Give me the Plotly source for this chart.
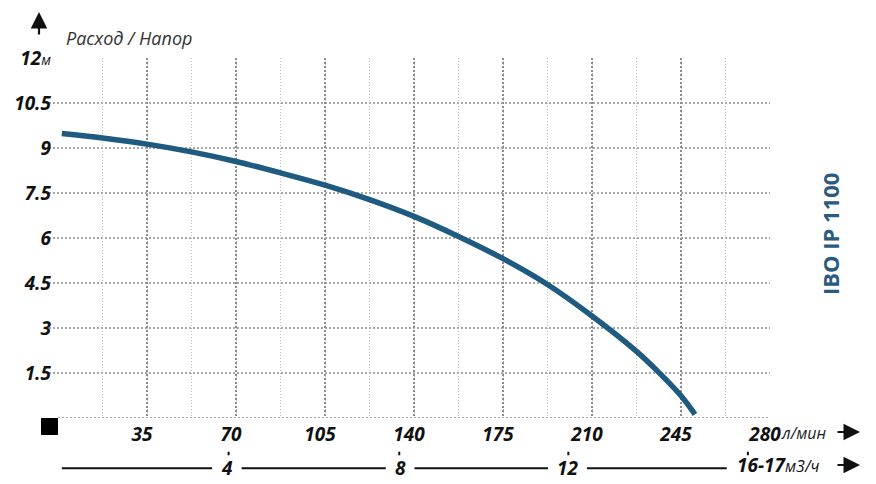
import plotly.graph_objects as go

# ---- data ----
flow_lpm = [1.5, 17.5, 35, 52.5, 70, 87.5, 105, 122.5, 140, 157.5, 175, 192.5, 210, 227.5, 236.25, 245, 250.5]
head_m = [9.48, 9.33, 9.13, 8.87, 8.55, 8.17, 7.76, 7.28, 6.72, 6.05, 5.31, 4.45, 3.4, 2.22, 1.52, 0.74, 0.12]

x_ticks = [0, 35, 70, 105, 140, 175, 210, 245, 280]
x_ticktext = ["", "35", "70", "105", "140", "175", "210", "245", "280"]
y_ticks = [1.5, 3, 4.5, 6, 7.5, 9, 10.5, 12]
y_ticktext = ["1.5", "3", "4.5", "6", "7.5", "9", "10.5",
              "12<span style='font-size:14px;font-weight:400'>м</span>"]
h_grid = [0, 1.5, 3, 4.5, 6, 7.5, 9, 10.5]

# secondary scale (m3/h), positions in l/min
m3h_labels = ["4", "8", "12"]
m3h_label_pos = [66.5, 134.5, 200.5]
m3h_tick_pos = [67.1, 134.2, 200.7, 271.3, 286.6]
m3h_line_segments = [(1.5, 60.6), (72.2, 128.9), (140.2, 192.7), (208.0, 263.0)]

title_text = "Расход / Напор"
model_text = "IBO IP 1100"
unit_flow = "л/мин"
unit_m3h = "<b>16-17</b><span style='font-size:16px'>м3/ч</span>"

CURVE = "#1f5a80"
FONT = "Open Sans"

W, H = 876, 484
L, R, T, B = 58, 106, 58, 6
PW, PH = W - L - R, H - T - B
main_bottom = (H - B - 418) / PH


def px(xp):
    return (xp - L) / PW


def py(yp):
    return (H - B - yp) / PH


fig = go.Figure()

fig.add_trace(go.Scatter(
    x=flow_lpm, y=head_m, mode="lines",
    line=dict(color=CURVE, width=5.5, shape="spline", smoothing=1.0),
    hoverinfo="skip", showlegend=False, xaxis="x", yaxis="y"))

# m3/h baseline segments
sx, sy = [], []
for a, b in m3h_line_segments:
    sx += [a, b, None]
    sy += [47, 47, None]
fig.add_trace(go.Scatter(x=sx, y=sy, mode="lines", line=dict(color="#111", width=2),
                         hoverinfo="skip", showlegend=False, xaxis="x2", yaxis="y2"))

shapes = []
for v in h_grid:
    shapes.append(dict(type="line", xref="paper", yref="y",
                       x0=(0 if v == 0 else -9 / PW), x1=1, y0=v, y1=v,
                       line=dict(color="#8c8c8c", width=1.5, dash="2px,2px"), layer="below"))
# black square at origin
shapes.append(dict(type="rect", xref="paper", yref="paper",
                   x0=px(41), x1=px(58), y0=py(435), y1=py(418),
                   fillcolor="#000", line=dict(width=0)))

annotations = []
num_font = dict(family=FONT, size=19, color="#111", weight="bold", style="italic")
for lab, pos in zip(m3h_labels, m3h_label_pos):
    annotations.append(dict(x=pos, y=47, xref="x2", yref="y2", text=lab, showarrow=False,
                            font=num_font, xanchor="center", yanchor="middle"))
for pos in m3h_tick_pos:
    annotations.append(dict(x=pos, y=34.7, xref="x2", yref="y2", text="", showarrow=True,
                            ax=0, ay=-5, arrowhead=0, arrowwidth=2, arrowcolor="#111",
                            standoff=0, startstandoff=0))
annotations.append(dict(x=px(735), y=py(465), xref="paper", yref="paper", text=unit_m3h,
                        showarrow=False, xanchor="left", yanchor="middle",
                        font=dict(family=FONT, size=19, color="#111", style="italic")))
annotations.append(dict(x=px(779), y=py(433), xref="paper", yref="paper", text=unit_flow,
                        showarrow=False, xanchor="left", yanchor="middle",
                        font=dict(family=FONT, size=16, color="#222", style="italic")))
for yy in (432, 465):
    annotations.append(dict(x=px(860), y=py(yy), xref="paper", yref="paper", text="",
                            showarrow=True, ax=-24, ay=0, arrowhead=2, arrowsize=1.5,
                            arrowwidth=2.2, arrowcolor="#111", standoff=0))
annotations.append(dict(x=px(39), y=py(12), xref="paper", yref="paper", text="",
                        showarrow=True, ax=0, ay=24, arrowhead=2, arrowsize=1.5,
                        arrowwidth=2.2, arrowcolor="#111", standoff=0))
annotations.append(dict(x=px(64), y=py(38), xref="paper", yref="paper", text=title_text,
                        showarrow=False, xanchor="left", yanchor="middle",
                        font=dict(family=FONT, size=18, color="#333", style="italic")))
annotations.append(dict(x=px(830), y=py(234), xref="paper", yref="paper", text=model_text,
                        showarrow=False, textangle=-90, xanchor="center", yanchor="middle",
                        font=dict(family=FONT, size=22, color="#2b5a80", weight="bold")))

fig.update_layout(
    width=W, height=H, margin=dict(l=L, r=R, t=T, b=B, autoexpand=False),
    template="none",
    paper_bgcolor="white", plot_bgcolor="white",
    xaxis=dict(range=[0, 280], tickvals=x_ticks, ticktext=x_ticktext, ticks="",
               showline=False, zeroline=False, showgrid=True, automargin=False,
               gridcolor="#8c8c8c", gridwidth=1.5, griddash="2px,2px",
               minor=dict(dtick=17.5, tick0=0, showgrid=True, gridcolor="#bdbdbd",
                          gridwidth=1, griddash="1px,2px"),
               tickfont=num_font, ticklabelstandoff=3, ticklabelshift=-5,
               anchor="y", fixedrange=True),
    xaxis2=dict(range=[0, 280], anchor="y2", visible=False, showgrid=False,
                fixedrange=True),
    yaxis=dict(range=[0, 12], domain=[main_bottom, 1], tickvals=y_ticks, ticktext=y_ticktext,
               ticks="", showline=False, zeroline=False, showgrid=False, automargin=False,
               tickfont=num_font, ticklabelstandoff=6, fixedrange=True),
    yaxis2=dict(range=[56, 0], domain=[0, main_bottom], anchor="x2", visible=False,
                fixedrange=True),
    shapes=shapes, annotations=annotations,
)

fig.write_html("out.html", config={"displayModeBar": False},
               post_script="document.body.style.margin='0';document.body.style.overflow='hidden';")
